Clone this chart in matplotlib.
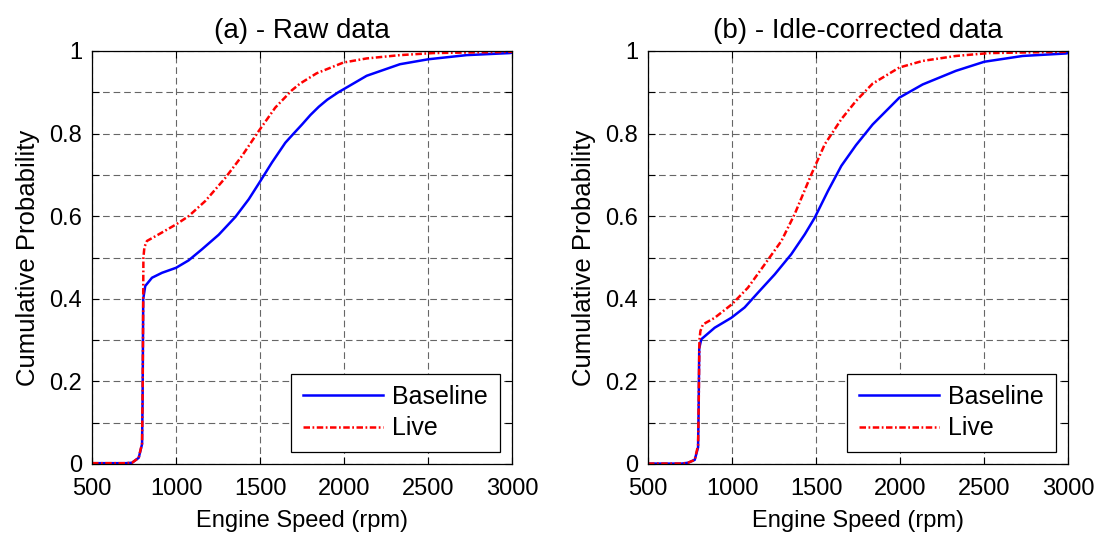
import numpy as np
import matplotlib
matplotlib.use("Agg")
from matplotlib import pyplot as plt

plt.rcParams['font.family'] = ['Liberation Sans', 'DejaVu Sans']

# (a) raw data
rpm_base_a = [500, 700, 738, 778, 798, 801, 805, 817, 857, 917, 1000, 1075, 1155, 1254, 1353, 1433,
              1502, 1571, 1651, 1700, 1750, 1800, 1850, 1900, 1966, 2000, 2135, 2333, 2502, 2730,
              2988, 3000]
base_a = [0.002, 0.002, 0.003, 0.015, 0.048, 0.15, 0.40, 0.431, 0.451, 0.463, 0.475, 0.493, 0.52,
          0.555, 0.598, 0.641, 0.685, 0.73, 0.778, 0.80, 0.822, 0.845, 0.865, 0.882, 0.90, 0.908,
          0.94, 0.968, 0.98, 0.99, 0.995, 0.996]
rpm_live_a = [500, 700, 738, 778, 798, 802, 806, 812, 827, 897, 1000, 1075, 1175, 1294, 1393, 1492,
              1591, 1690, 1738, 1837, 1996, 2135, 2333, 2532, 2988, 3000]
live_a = [0.002, 0.002, 0.003, 0.015, 0.05, 0.20, 0.50, 0.525, 0.54, 0.556, 0.58, 0.60, 0.637, 0.693,
          0.746, 0.806, 0.863, 0.905, 0.921, 0.946, 0.972, 0.982, 0.99, 0.995, 0.998, 0.998]

# (b) idle-corrected data
rpm_base_b = [500, 700, 738, 778, 798, 801, 805, 817, 897, 996, 1075, 1155, 1254, 1353, 1433, 1492,
              1571, 1651, 1738, 1837, 1996, 2135, 2333, 2502, 2730, 2988, 3000]
base_b = [0.001, 0.001, 0.003, 0.01, 0.04, 0.12, 0.28, 0.302, 0.33, 0.354, 0.379, 0.415, 0.459, 0.508,
          0.556, 0.596, 0.661, 0.722, 0.772, 0.822, 0.887, 0.919, 0.952, 0.974, 0.988, 0.994, 0.995]
rpm_live_b = [500, 700, 738, 778, 798, 802, 806, 812, 827, 897, 1000, 1095, 1194, 1294, 1373, 1472,
              1552, 1651, 1738, 1837, 1996, 2135, 2333, 2532, 2988, 3000]
live_b = [0.001, 0.001, 0.003, 0.01, 0.045, 0.15, 0.30, 0.322, 0.338, 0.354, 0.387, 0.427, 0.483, 0.54,
          0.605, 0.701, 0.774, 0.835, 0.879, 0.921, 0.96, 0.976, 0.988, 0.995, 0.998, 0.998]

titles = ["(a) - Raw data", "(b) - Idle-corrected data"]
panels = [(rpm_base_a, base_a, rpm_live_a, live_a), (rpm_base_b, base_b, rpm_live_b, live_b)]

fig = plt.figure(figsize=(10.99, 5.35), dpi=100)
W, H = 1099.0, 535.0
lefts = [92, 648]

for k in range(2):
    ax = fig.add_axes([lefts[k] / W, (H - 464) / H, 420 / W, 413 / H])
    xb, yb, xl, yl = panels[k]
    ax.plot(xb, yb, color='blue', lw=1.8, label='Baseline')
    ax.plot(xl, yl, color='red', lw=1.8, dashes=(2.6, 1.0, 0.7, 1.0), label='Live')
    ax.set_xlim(500, 3000)
    ax.set_ylim(0, 1)
    ax.set_xticks(np.arange(500, 3001, 500))
    ax.set_yticks(np.arange(0, 1.01, 0.1))
    ax.set_yticklabels(["0" if i == 0 else ("1" if i == 10 else ("%.1f" % (i / 10) if i % 2 == 0 else ""))
                        for i in range(11)])
    ax.grid(True, color='#666666', ls=(0, (6, 3.5)), lw=0.8)
    ax.tick_params(direction='in', top=True, right=True, labelsize=17, length=5)
    ax.tick_params(axis='x', pad=10)
    ax.tick_params(axis='y', pad=7)
    for s in ax.spines.values():
        s.set_linewidth(0.9)
    ax.set_xlabel("Engine Speed (rpm)", fontsize=17, labelpad=7)
    ax.set_ylabel("Cumulative Probability", fontsize=18.5, labelpad=7)
    ax.set_title(titles[k], fontsize=20, pad=9)
    leg = ax.legend(loc='lower right', fontsize=18, handlelength=3.2, handletextpad=0.4,
                    fancybox=False, framealpha=1, edgecolor='black', borderaxespad=0.5,
                    labelspacing=0.3, borderpad=0.45)
    leg.get_frame().set_linewidth(0.9)

fig.savefig("out.png", dpi=100)
